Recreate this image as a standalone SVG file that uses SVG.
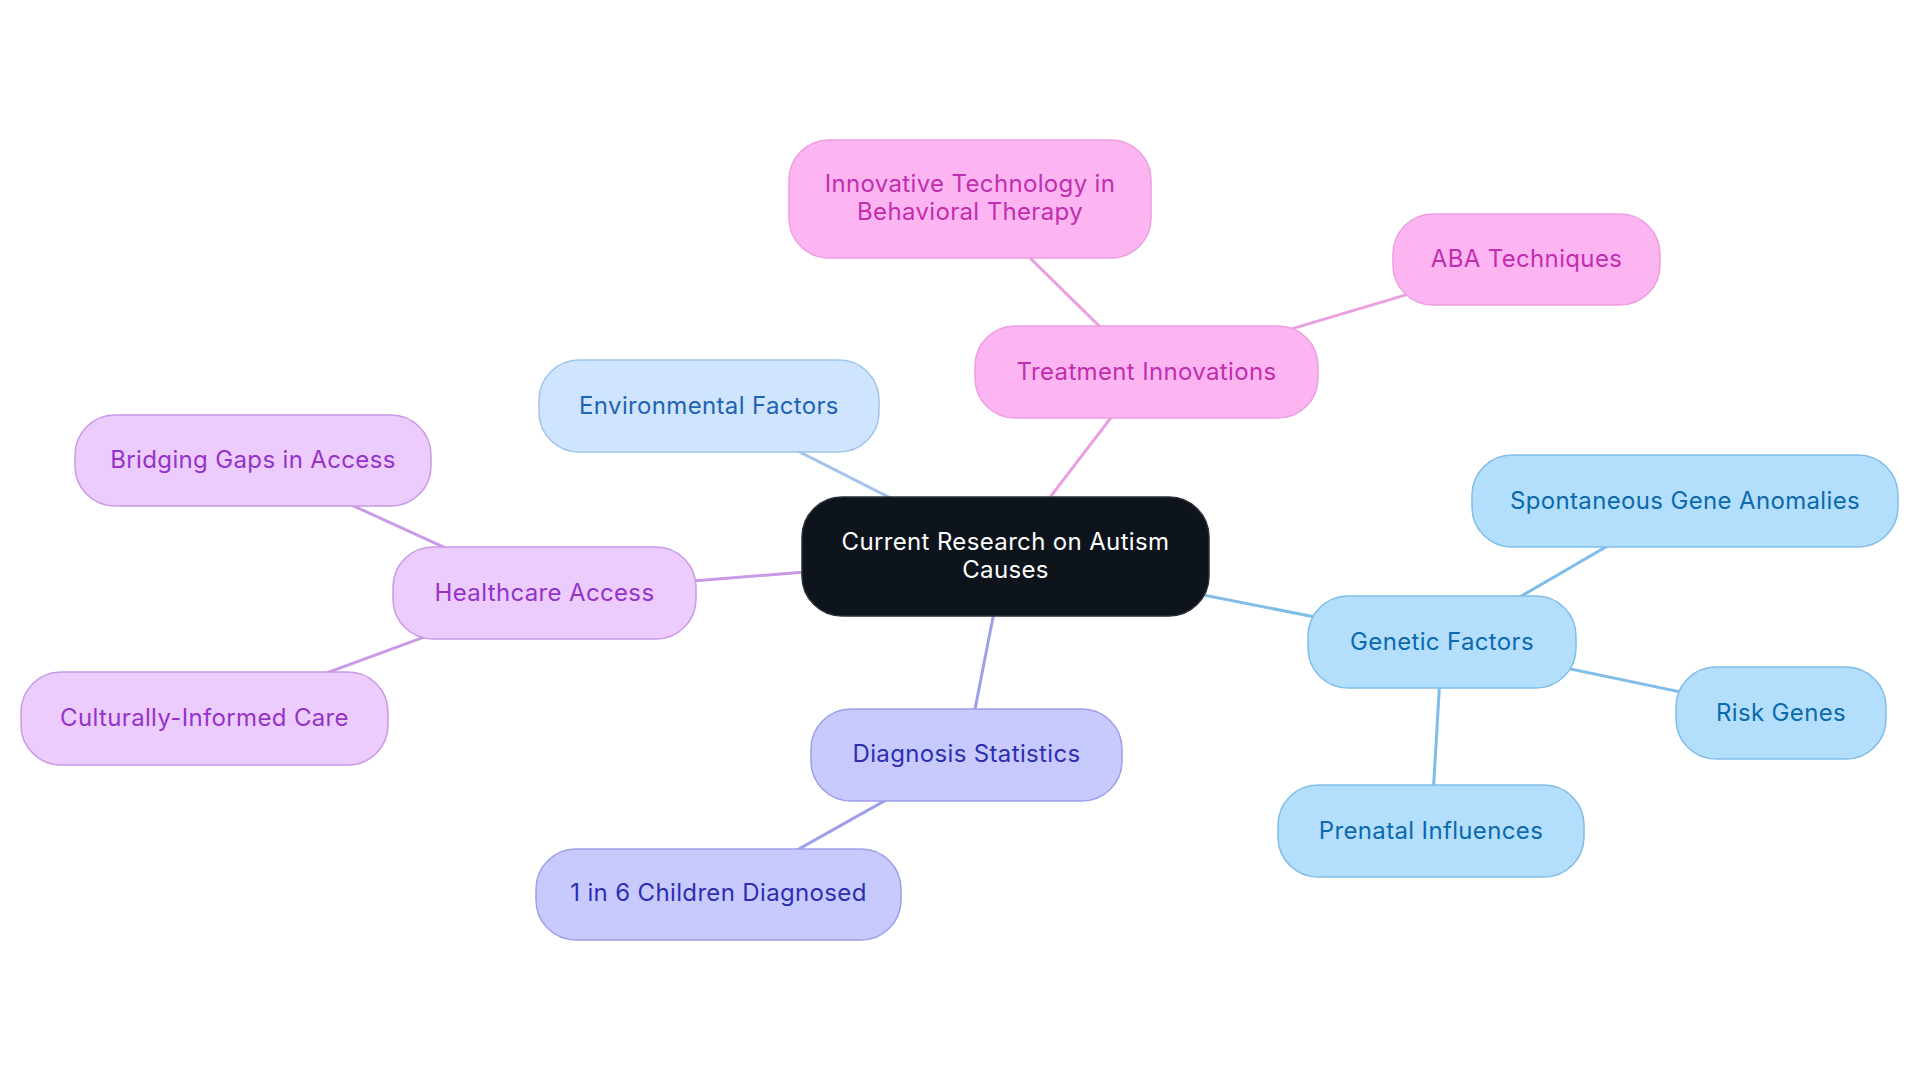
<svg xmlns="http://www.w3.org/2000/svg" width="1920" height="1083" viewBox="0 0 1920 1083">
<style>
text{font-family:Inter,"Noto Sans","Liberation Sans",sans-serif;font-size:24px;letter-spacing:0.35px;text-anchor:middle;dominant-baseline:central}
.c rect{fill:#0d141b;stroke:#2a3138;stroke-width:1.5}
.c text{fill:#ffffff}
.env rect{fill:#cfe4fd;stroke:#9ec4ea;stroke-width:1.5}
.env text{fill:#1e63b4}
.pk rect{fill:#fdb5f2;stroke:#eb9ee1;stroke-width:1.5}
.pk text{fill:#c22daf}
.pu rect{fill:#eccbfd;stroke:#c99ae6;stroke-width:1.5}
.pu text{fill:#9533c8}
.dg rect{fill:#c8cafd;stroke:#9d9fe8;stroke-width:1.5}
.dg text{fill:#2d2fb0}
.bl rect{fill:#b3dffd;stroke:#80bde8;stroke-width:1.5}
.bl text{fill:#0b69ac}
#connectors line{stroke-width:3;fill:none}
</style>
<rect width="1920" height="1083" fill="#ffffff"/>
<g id="connectors">
<line x1="1005" y1="556" x2="709" y2="406" stroke="#a0c4ea"/>
<line x1="1005" y1="556" x2="1146" y2="372" stroke="#eb9ee1"/>
<line x1="1146" y1="372" x2="970" y2="199" stroke="#eb9ee1"/>
<line x1="1146" y1="372" x2="1527" y2="259" stroke="#eb9ee1"/>
<line x1="1005" y1="556" x2="544" y2="593" stroke="#c99ae6"/>
<line x1="544" y1="593" x2="253" y2="460" stroke="#c99ae6"/>
<line x1="544" y1="593" x2="204" y2="718" stroke="#c99ae6"/>
<line x1="1005" y1="556" x2="966" y2="755" stroke="#9d9fe8"/>
<line x1="966" y1="755" x2="719" y2="894" stroke="#9d9fe8"/>
<line x1="1005" y1="556" x2="1442" y2="642" stroke="#80bde8"/>
<line x1="1442" y1="642" x2="1685" y2="501" stroke="#80bde8"/>
<line x1="1442" y1="642" x2="1781" y2="713" stroke="#80bde8"/>
<line x1="1442" y1="642" x2="1431" y2="831" stroke="#80bde8"/>
</g>
<g id="node-central" class="c">
<rect x="802" y="497" width="407" height="119" rx="40"/>
<text x="1005.5" y="541">Current Research on Autism</text>
<text x="1005.5" y="569">Causes</text>
</g>
<g id="node-environmental" class="env">
<rect x="539" y="360" width="340" height="92" rx="40"/>
<text x="709" y="405">Environmental Factors</text>
</g>
<g id="node-treatment" class="pk">
<rect x="975" y="326" width="343" height="92" rx="40"/>
<text x="1146.5" y="371">Treatment Innovations</text>
</g>
<g id="node-innovative" class="pk">
<rect x="789" y="140" width="362" height="118" rx="40"/>
<text x="970" y="183">Innovative Technology in</text>
<text x="970" y="211">Behavioral Therapy</text>
</g>
<g id="node-aba" class="pk">
<rect x="1393" y="214" width="267" height="91" rx="40"/>
<text x="1526.5" y="258">ABA Techniques</text>
</g>
<g id="node-healthcare" class="pu">
<rect x="393" y="547" width="303" height="92" rx="40"/>
<text x="544.5" y="592">Healthcare Access</text>
</g>
<g id="node-bridging" class="pu">
<rect x="75" y="415" width="356" height="91" rx="40"/>
<text x="253" y="459">Bridging Gaps in Access</text>
</g>
<g id="node-cultural" class="pu">
<rect x="21" y="672" width="367" height="93" rx="40"/>
<text x="204.5" y="717">Culturally-Informed Care</text>
</g>
<g id="node-diagnosis" class="dg">
<rect x="811" y="709" width="311" height="92" rx="40"/>
<text x="966.5" y="753">Diagnosis Statistics</text>
</g>
<g id="node-onein6" class="dg">
<rect x="536" y="849" width="365" height="91" rx="40"/>
<text x="718.5" y="892">1 in 6 Children Diagnosed</text>
</g>
<g id="node-genetic" class="bl">
<rect x="1308" y="596" width="268" height="92" rx="40"/>
<text x="1442" y="641">Genetic Factors</text>
</g>
<g id="node-spontaneous" class="bl">
<rect x="1472" y="455" width="426" height="92" rx="40"/>
<text x="1685" y="500">Spontaneous Gene Anomalies</text>
</g>
<g id="node-risk" class="bl">
<rect x="1676" y="667" width="210" height="92" rx="40"/>
<text x="1781" y="712">Risk Genes</text>
</g>
<g id="node-prenatal" class="bl">
<rect x="1278" y="785" width="306" height="92" rx="40"/>
<text x="1431" y="830">Prenatal Influences</text>
</g>
</svg>
